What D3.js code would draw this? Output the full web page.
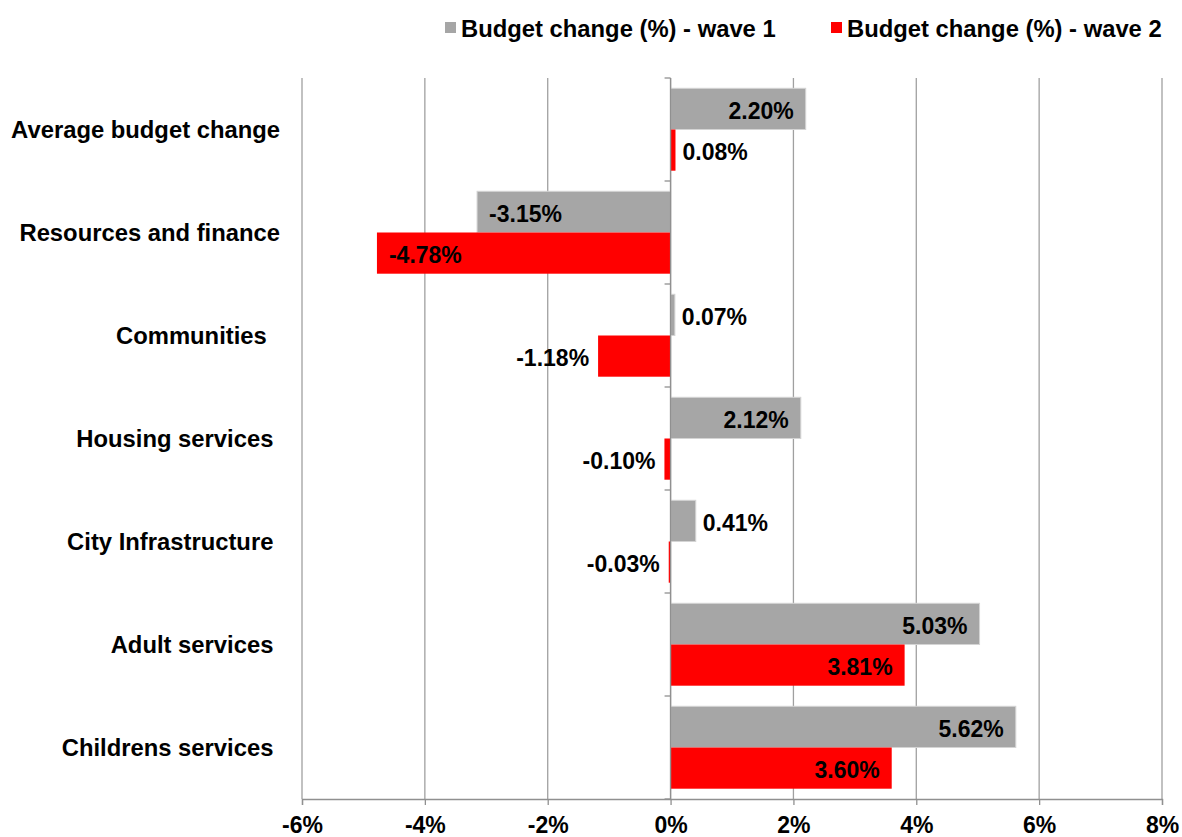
<!DOCTYPE html>
<html>
<head>
<meta charset="utf-8">
<script src="https://cdn.jsdelivr.net/npm/d3@7"></script>
<style>
  html, body { margin: 0; padding: 0; background: #fff; }
  svg { display: block; }
  text { font-family: "Liberation Sans", Arial, sans-serif; font-weight: bold; fill: #000; white-space: pre; }
</style>
</head>
<body>
<svg id="chart" width="1182" height="837"></svg>
<script>
// ---- data ----
const categories = [
  "Average budget change",
  "Resources and finance",
  "Communities  ",
  "Housing services ",
  "City Infrastructure ",
  "Adult services ",
  "Childrens services "
];
const wave1 = [2.20, -3.15, 0.07, 2.12, 0.41, 5.03, 5.62];
const wave2 = [0.08, -4.78, -1.18, -0.10, -0.03, 3.81, 3.60];
const seriesNames = ["Budget change (%) - wave 1", "Budget change (%) - wave 2"];
const xTicks = [-6, -4, -2, 0, 2, 4, 6, 8];

// ---- layout ----
const W = 1182, H = 837;
const margin = { top: 78, right: 20, bottom: 38, left: 302 };
const colors = ["#a6a6a6", "#ff0000"];
const fontSize = 23;
const bigFont = 23.8;

const svg = d3.select("#chart");

const x = d3.scaleLinear().domain([-6, 8]).range([margin.left, W - margin.right]);
const y = d3.scaleBand().domain(categories).range([margin.top, H - margin.bottom])
  .paddingInner(0.2).paddingOuter(0.1);
const ySub = d3.scaleBand().domain([0, 1]).range([0, y.bandwidth()]).padding(0);

// gridlines
svg.append("g").selectAll("line").data(xTicks).join("line")
  .attr("x1", d => x(d)).attr("x2", d => x(d))
  .attr("y1", margin.top).attr("y2", H - margin.bottom)
  .attr("stroke", "#a0a0a0").attr("stroke-width", 1.3);

// bottom axis
const xAxis = d3.axisBottom(x).tickValues(xTicks).tickFormat(d => d + "%").tickSize(6).tickPadding(6);
const gx = svg.append("g").attr("transform", `translate(0,${H - margin.bottom})`).call(xAxis);
gx.select(".domain").attr("stroke", "#909090").attr("stroke-width", 1.3);
gx.selectAll(".tick line").attr("stroke", "#909090").attr("stroke-width", 1.3);
gx.selectAll(".tick text").style("font-size", fontSize + "px").attr("dy", "0.97em")
  .style("font-family", "'Liberation Sans', Arial, sans-serif").style("font-weight", "bold").attr("fill", "#000");

// bars
const series = [wave1, wave2];
series.forEach((vals, si) => {
  const g = svg.append("g");
  g.selectAll("rect").data(vals).join("rect")
    .attr("x", d => x(Math.min(0, d)))
    .attr("width", d => Math.abs(x(d) - x(0)))
    .attr("y", (d, i) => y(categories[i]) + ySub(si))
    .attr("height", ySub.bandwidth())
    .attr("fill", colors[si])
    .attr("stroke", si === 0 ? "#d4d4d4" : "none")
    .attr("stroke-width", 1);

  // labels
  g.selectAll("text").data(vals).join("text")
    .style("font-size", fontSize + "px")
    .attr("y", (d, i) => y(categories[i]) + ySub(si) + ySub.bandwidth() / 2)
    .attr("dy", "0.42em")
    .text(d => d.toFixed(2) + "%")
    .each(function (d) {
      const t = d3.select(this);
      const w = this.getComputedTextLength();
      const barW = Math.abs(x(d) - x(0));
      const inside = barW > w + 16;
      if (d >= 0) {
        if (inside) t.attr("x", x(d) - 12).attr("text-anchor", "end");
        else t.attr("x", x(d) + 7).attr("text-anchor", "start");
      } else {
        if (inside) t.attr("x", x(d) + 12).attr("text-anchor", "start");
        else t.attr("x", x(d) - 9).attr("text-anchor", "end");
      }
    });
});

// y axis at zero
const yAxisG = svg.append("g");
yAxisG.append("line")
  .attr("x1", x(0)).attr("x2", x(0))
  .attr("y1", margin.top).attr("y2", H - margin.bottom)
  .attr("stroke", "#909090").attr("stroke-width", 1.3);
const bounds = d3.range(categories.length + 1).map(i => margin.top + i * y.step());
yAxisG.selectAll("line.tk").data(bounds).join("line").attr("class", "tk")
  .attr("x1", x(0) - 6).attr("x2", x(0))
  .attr("y1", d => d).attr("y2", d => d)
  .attr("stroke", "#909090").attr("stroke-width", 1.3);

// category labels
svg.append("g").selectAll("text").data(categories).join("text")
  .style("font-size", bigFont + "px")
  .attr("x", 280)
  .attr("y", d => y(d) + y.bandwidth() / 2)
  .attr("dy", "0.34em")
  .attr("text-anchor", "end")
  .text(d => d);

// legend
const legendX = [445, 831];
const legend = svg.append("g");
seriesNames.forEach((name, i) => {
  legend.append("rect").attr("x", legendX[i]).attr("y", 22).attr("width", 11).attr("height", 11).attr("fill", colors[i]);
  legend.append("text").style("font-size", bigFont + "px")
    .attr("x", legendX[i] + 16).attr("y", 28).attr("dy", "0.36em").text(name);
});
</script>
</body>
</html>
